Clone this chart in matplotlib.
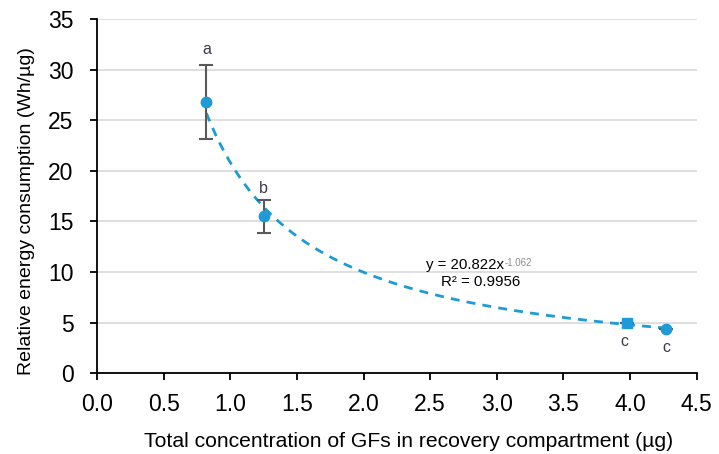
import numpy as np
import matplotlib
matplotlib.use("Agg")
import matplotlib.pyplot as plt

plt.rcParams['font.family'] = ['Liberation Sans', 'DejaVu Sans']

x_vals = [0.82, 1.25, 3.98, 4.27]
y_vals = [26.8, 15.5, 5.0, 4.4]
y_err_lo = [3.7, 1.6, 0.0, 0.0]
y_err_hi = [3.7, 1.6, 0.0, 0.0]
letters = ['a', 'b', 'c', 'c']
letter_y = [32.0, 18.3, 3.1, 2.5]
fit_a = 20.822
fit_b = -1.062
r2 = 0.9956

blue = '#1E9AD6'

fig = plt.figure(figsize=(7.19, 4.54), dpi=100)
ax = fig.add_axes([0.135, 0.178, 0.834, 0.780])

# grid
ax.set_axisbelow(True)
ax.yaxis.grid(True, color='#D9D9D9', linewidth=1.2)

# trendline
xf = np.linspace(min(x_vals), max(x_vals), 200)
ax.plot(xf, fit_a * xf ** fit_b, linestyle=(0, (3.2, 2.6)), color=blue, linewidth=2.0, zorder=2)

# error bars
ax.errorbar(x_vals, y_vals, yerr=[y_err_lo, y_err_hi], fmt='none', ecolor='#595959',
            elinewidth=1.5, capsize=5, capthick=1.5, zorder=3)
markers = ['o', 'o', 's', 'o']
for xv, yv, m in zip(x_vals, y_vals, markers):
    ax.plot([xv], [yv], marker=m, color=blue, markersize=7.5 if m == 'o' else 6.5,
            linestyle='none', zorder=4)

for xv, ly, t in zip(x_vals, letter_y, letters):
    ax.text(xv - (0.02 if 3.9 < xv < 4.1 else 0), ly, t, ha='center', va='center',
            fontsize=11.5, color='#3A3A4A')

ax.text(2.47, 10.65, 'y = 20.822x', fontsize=10.8, ha='left', va='center', color='black')
ax.text(3.055, 10.85, '-1.062', fontsize=7, ha='left', va='center', color='#8C8C8C')
ax.text(2.58, 9.0, 'R² = 0.9956', fontsize=10.8, ha='left', va='center', color='black')

ax.set_xlim(0, 4.5)
ax.set_ylim(0, 35)
ax.set_xticks(np.arange(0, 4.51, 0.5))
ax.set_xticklabels([f'{v:.1f}' for v in np.arange(0, 4.51, 0.5)])
ax.set_yticks(np.arange(0, 36, 5))

for s in ['top', 'right']:
    ax.spines[s].set_visible(False)
for s in ['left', 'bottom']:
    ax.spines[s].set_color('black')
    ax.spines[s].set_linewidth(1.3)
ax.tick_params(axis='both', direction='out', length=5, width=1.3, labelsize=16.5, colors='black')
ax.tick_params(axis='x', pad=9)
ax.tick_params(axis='y', pad=12)

ax.set_xlabel('Total concentration of GFs in recovery compartment (µg)', fontsize=15.2, labelpad=12)
ax.set_ylabel('Relative energy consumption (Wh/µg)', fontsize=14, labelpad=9)
ax.xaxis.label.set_x(0.519)
ax.yaxis.label.set_y(0.458)

fig.savefig('out.png', dpi=100)
